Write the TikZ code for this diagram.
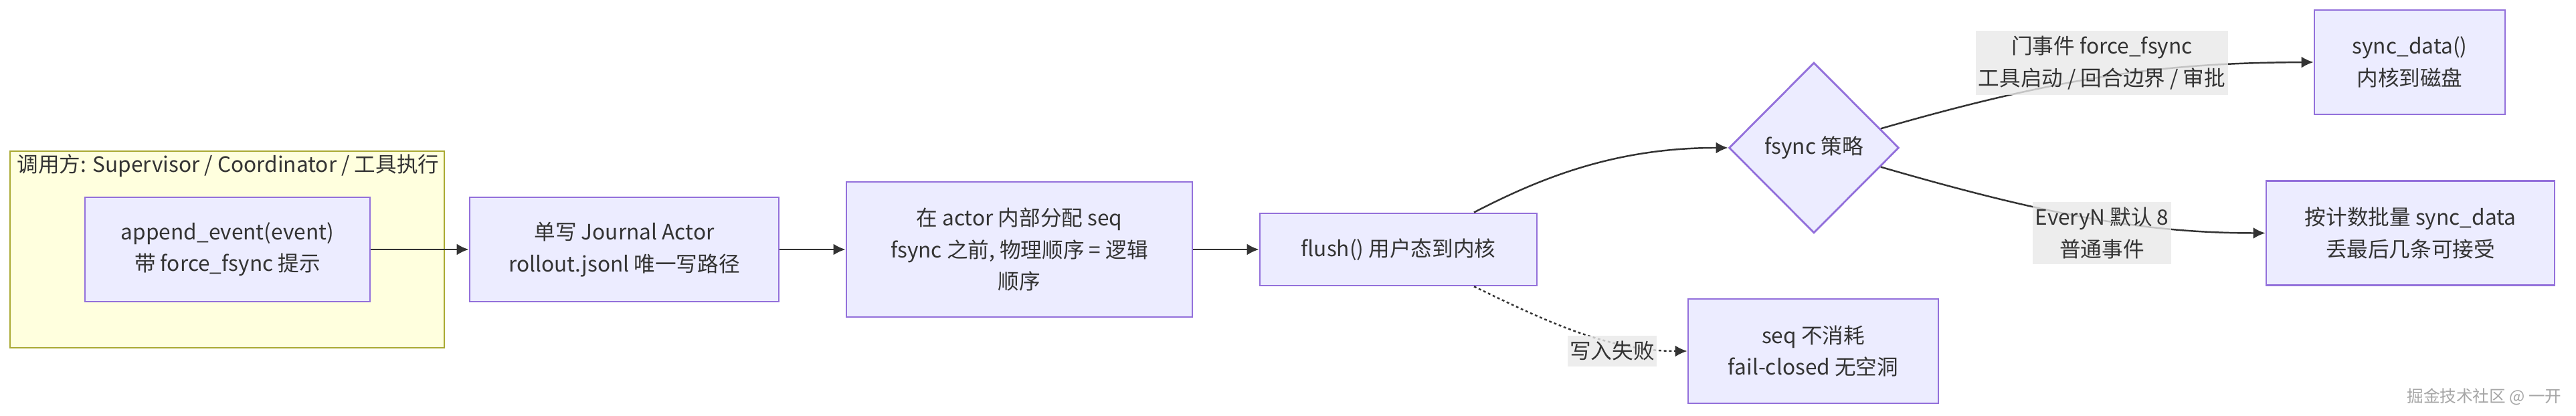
\documentclass[tikz,border=0pt]{standalone}
\usepackage{fontspec}
\setmainfont{Noto Sans CJK SC}
\usepackage{tikz}
\usetikzlibrary{arrows.meta,shapes.geometric}
\usepackage{xcolor}
\definecolor{noeud}{HTML}{ECECFF}
\definecolor{bordnoeud}{HTML}{9370DB}
\definecolor{groupe}{HTML}{FFFFDE}
\definecolor{bordgroupe}{HTML}{AAAA33}
\definecolor{trait}{HTML}{333333}
\definecolor{fondlabel}{HTML}{E8E8E8}

\begin{document}
\begin{tikzpicture}[x=1cm, y=-1cm,
    font=\fontsize{9pt}{13.5pt}\selectfont,
    boite/.style={draw=bordnoeud, fill=noeud, line width=0.8pt, text=trait, align=center, inner sep=0pt, minimum height=1.56cm},
    losange/.style={diamond, aspect=1, draw=bordnoeud, fill=noeud, line width=0.8pt, text=trait, inner sep=0pt},
    etiquette/.style={fill=fondlabel, fill opacity=0.8, text opacity=1, text=trait, align=center, inner xsep=1pt, inner ysep=0.08cm},
    fleche/.style={draw=trait, line width=0.7pt, -{Latex[length=1.8mm, width=1.7mm]}}]

    \useasboundingbox (0,0) rectangle (38.5,6.22);

    % Groupe appelant
    \node[draw=bordgroupe, fill=groupe, line width=0.8pt, minimum width=6.49cm, minimum height=2.94cm] (appelant) at (3.395,3.73) {};
    \node[text=trait] (titreappelant) at (3.41,2.48) {调用方: Supervisor / Coordinator / 工具执行};

    % Noeuds
    \node[boite, minimum width=4.26cm] (ajout) at (3.40,3.73) {append\_event(event)\\带 force\_fsync 提示};
    \node[boite, minimum width=4.62cm] (journal) at (9.33,3.73) {单写 Journal Actor\\rollout.jsonl 唯一写路径};
    \node[boite, minimum width=5.17cm, minimum height=2.02cm] (sequence) at (15.235,3.73) {在 actor 内部分配 seq\\fsync 之前, 物理顺序 = 逻辑\\顺序};
    \node[boite, minimum width=4.14cm, minimum height=1.08cm] (vidage) at (20.90,3.73) {flush() 用户态到内核};
    \node[losange, minimum width=2.54cm, minimum height=2.55cm] (politique) at (27.11,2.21) {fsync 策略};
    \node[boite, minimum width=3.74cm] (echec) at (27.10,5.25) {seq 不消耗\\fail-closed 无空洞};
    \node[boite, minimum width=2.85cm] (disque) at (36.015,0.93) {sync\_data()\\内核到磁盘};
    \node[boite, minimum width=4.31cm] (lot) at (36.025,3.485) {按计数批量 sync\_data\\丢最后几条可接受};

    % Flèches simples
    \draw[fleche] (ajout.east) -- (journal.west);
    \draw[fleche] (journal.east) -- (sequence.west);
    \draw[fleche] (sequence.east) -- (vidage.west);

    % Flèche courbe vers le losange
    \draw[fleche] ([xshift=1.13cm]vidage.north) .. controls (23.10,2.62) and (24.20,2.21) .. (politique.west);

    % Flèche pointillée avec étiquette
    \draw[fleche, dash pattern=on 1.1pt off 1.1pt] ([xshift=1.13cm]vidage.south) .. controls (23.00,4.75) and (24.00,5.25) .. (echec.west);
    \node[etiquette] (lblecrit) at (24.095,5.25) {写入失败};

    % Branches du losange
    \draw[fleche] (politique.16) .. controls (31.00,1.09) and (32.50,0.94) .. (disque.west);
    \node[etiquette] (lblporte) at (31.415,0.94) {门事件 force\_fsync\\工具启动 / 回合边界 / 审批};
    \draw[fleche] (politique.-16) .. controls (30.50,3.19) and (32.00,3.485) .. (lot.west);
    \node[etiquette] (lblcompte) at (31.415,3.485) {EveryN 默认 8\\普通事件};

    % Filigrane
    \node[text=gray!70, font=\fontsize{7pt}{8pt}\selectfont] (filigrane) at (37.13,5.93) {掘金技术社区 @ 一开};

\end{tikzpicture}
\end{document}
